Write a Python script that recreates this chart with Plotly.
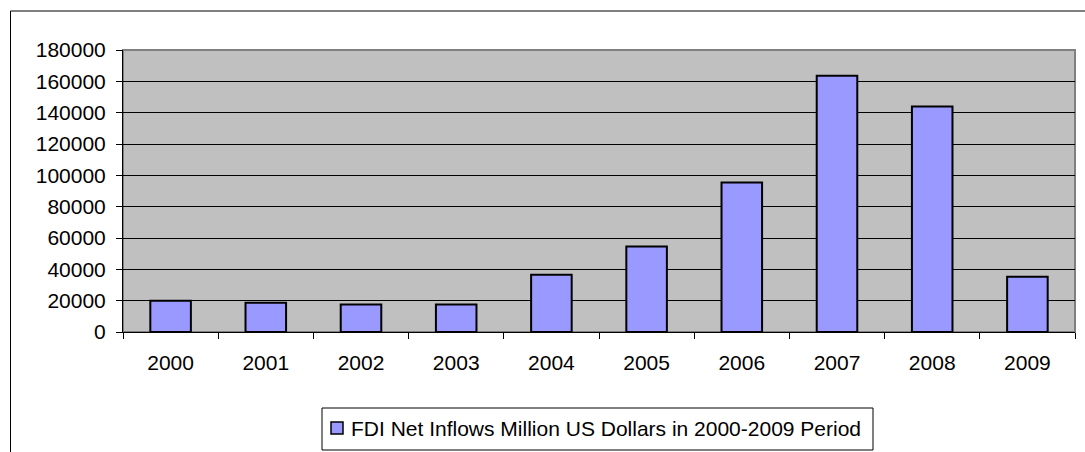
import plotly.graph_objects as go

# FDI net inflows, million US dollars
years = ["2000", "2001", "2002", "2003", "2004", "2005", "2006", "2007", "2008", "2009"]
fdi_inflows = [20000, 18600, 17500, 17600, 36500, 54500, 95500, 163500, 144000, 35200]
series_name = "FDI Net Inflows Million US Dollars in 2000-2009 Period"
y_ticks = [0, 20000, 40000, 60000, 80000, 100000, 120000, 140000, 160000, 180000]

W, H = 1085, 452
L, R, T, B = 123, 10, 50, 120
BAR_COLOR = "#9999FF"
FONT = "Arial, Liberation Sans, sans-serif"


def px_x(px):
    return (px - L) / (W - L - R)


def px_y(py):
    return (H - B - py) / (H - T - B)


fig = go.Figure()
fig.add_trace(go.Bar(
    x=years,
    y=fdi_inflows,
    name=series_name,
    marker=dict(color=BAR_COLOR, line=dict(color="black", width=2)),
    showlegend=False,
))

shapes = [
    # gray border of the plot area
    dict(type="rect", xref="paper", yref="paper", x0=0, x1=1, y0=0, y1=1,
         line=dict(color="#808080", width=2), layer="below"),
    # outer chart frame
    dict(type="rect", xref="paper", yref="paper",
         x0=px_x(10.5), x1=px_x(1120), y0=px_y(11), y1=px_y(500),
         line=dict(color="black", width=1)),
    # legend box
    dict(type="rect", xref="paper", yref="paper",
         x0=px_x(322), x1=px_x(873), y0=px_y(408), y1=px_y(450),
         line=dict(color="black", width=1), fillcolor="white"),
    # legend swatch
    dict(type="rect", xref="paper", yref="paper",
         x0=px_x(331), x1=px_x(343), y0=px_y(422), y1=px_y(434),
         line=dict(color="black", width=1.5), fillcolor=BAR_COLOR),
]

annotations = [
    dict(text=series_name, xref="paper", yref="paper",
         x=px_x(349), y=px_y(428), xanchor="left", yanchor="middle",
         showarrow=False, font=dict(family=FONT, size=21, color="black")),
]

fig.update_layout(
    width=W, height=H,
    margin=dict(l=L, r=R, t=T, b=B, pad=0),
    paper_bgcolor="white",
    plot_bgcolor="#C0C0C0",
    font=dict(family=FONT, size=21, color="black"),
    bargap=0.574,
    shapes=shapes,
    annotations=annotations,
    showlegend=False,
)

fig.update_xaxes(
    type="category",
    tickson="boundaries",
    ticks="outside", ticklen=6, tickcolor="black", tickwidth=1,
    showline=True, linecolor="black", linewidth=1,
    showgrid=False,
    ticklabelstandoff=12,
)

fig.update_yaxes(
    range=[0, 180000],
    tickvals=y_ticks,
    ticktext=[str(v) for v in y_ticks],
    ticks="outside", ticklen=6, tickcolor="black", tickwidth=1,
    showline=True, linecolor="black", linewidth=1,
    showgrid=True, gridcolor="black", gridwidth=1,
    zeroline=False,
    ticklabelstandoff=6,
)

fig.write_html("out.html")
